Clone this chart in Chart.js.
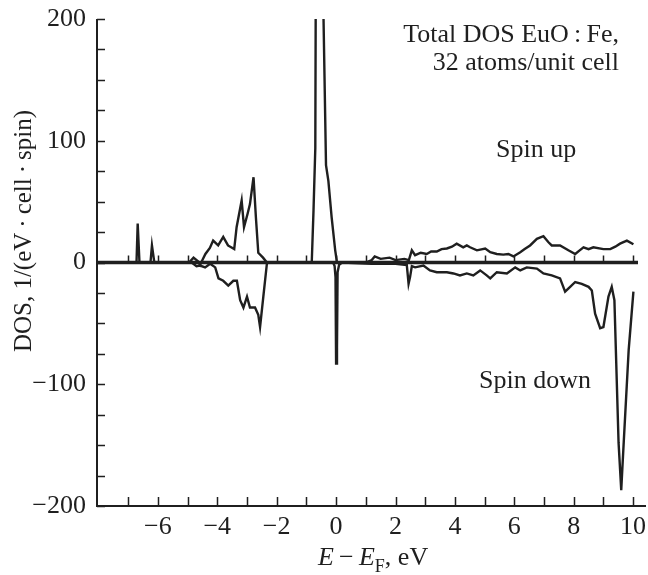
<!DOCTYPE html>
<html>
<head>
<meta charset="utf-8">
<script src="https://cdn.jsdelivr.net/npm/chart.js@4.4.1/dist/chart.umd.min.js"></script>
<style>
  html, body { margin: 0; padding: 0; background: #fff; }
</style>
</head>
<body>
<canvas id="dosChart" width="648" height="575"></canvas>
<script>
// energies (eV, relative to E_F) and total DOS values
const upEnergy = [-8, -6.8, -6.72, -6.68, -6.62, -6.25, -6.2, -6.12, -4.95, -4.8, -4.65, -4.58, -4.48, -4.4, -4.25, -4.14,
  -3.97, -3.8, -3.64, -3.43, -3.35, -3.18, -3.1, -2.98, -2.9, -2.78, -2.7, -2.62, -2.46, -2.33, -0.82, -0.76, -0.7, -0.67,
  -0.45, -0.43, -0.34, -0.26, -0.15, -0.03, 0.03, 1.0, 1.2, 1.3, 1.5, 1.8, 2.0, 2.3, 2.45, 2.55, 2.66, 2.85, 3.05, 3.2,
  3.39, 3.55, 3.73, 3.9, 4.06, 4.28, 4.4, 4.51, 4.74, 5.02, 5.19, 5.41, 5.63, 5.8, 5.97, 6.2, 6.35, 6.53, 6.76, 6.98,
  7.15, 7.26, 7.54, 7.82, 8.05, 8.2, 8.33, 8.5, 8.66, 9.0, 9.23, 9.4, 9.56, 9.79, 10.01];
const upDOS = [0, 0, 0, 32, 0, 0, 14, 0, 0, 4, 1, -2, 3, 7, 12, 18,
  14, 21, 14, 11, 29, 51, 29, 40, 48, 70, 37, 8, 4, 0, 0, 43, 94, 350,
  350, 210, 80, 67, 37, 10, 0, 0, 2, 5, 3, 4, 2, 3, 2, 10, 6, 8, 7, 9,
  9, 11, 11.5, 13, 15.5, 12.5, 14, 12.5, 10, 11.5, 8.5, 7, 6.5, 7, 5, 8.5, 11, 14, 19.4, 21.6,
  16.6, 14, 14, 10, 7, 10, 12.5, 11, 12.5, 11, 11, 13, 15.5, 18, 15];

const downEnergy = [-8, -4.86, -4.7, -4.58, -4.41, -4.24, -4.07, -3.96, -3.8, -3.63, -3.46, -3.34, -3.23, -3.12, -3.0,
  -2.9, -2.73, -2.62, -2.56, -2.45, -2.33, -2.3, -0.1, -0.05, -0.02, 0.0, 0.03, 0.05, 0.1, 0.2, 1.2, 2.0, 2.38, 2.44,
  2.49, 2.55, 2.66, 2.94, 3.16, 3.39, 3.73, 3.95, 4.17, 4.4, 4.62, 4.85, 5.07, 5.19, 5.41, 5.75, 6.03, 6.2, 6.42, 6.76,
  6.98, 7.26, 7.54, 7.71, 7.88, 8.05, 8.27, 8.5, 8.61, 8.72, 8.89, 9.0, 9.17, 9.28, 9.37, 9.51, 9.6, 9.67, 9.85, 10.01];
const downDOS = [0, 0, -3, -2.5, -4, -1, -4, -13, -15, -19, -15, -15, -31, -37, -28,
  -37, -37, -43, -53, -28, -1, 0, 0, -3, -12, -83, -70, -8, -2, 0, -1, -1, -2, -17.5,
  -12, -3, -4, -2.5, -6.5, -8, -8, -9, -10.6, -9, -10.6, -6.5, -10.6, -13, -8, -9, -4, -6.5, -4, -5,
  -9, -10.6, -13, -24, -20, -16, -17.5, -20, -23, -42, -54, -53, -28, -20, -31, -148, -187, -154, -72, -24];

const xTickValues = [-7, -6, -5, -4, -3, -2, -1, 0, 1, 2, 3, 4, 5, 6, 7, 8, 9, 10];
const xTickLabels = [-6, -4, -2, 0, 2, 4, 6, 8, 10];
const yTickValues = [-200, -175, -150, -125, -100, -75, -50, -25, 0, 25, 50, 75, 100, 125, 150, 175, 200];
const yTickLabels = [-200, -100, 0, 100, 200];

const INK = '#1f1f1f';
const SERIF = '"Liberation Serif", "Times New Roman", serif';

const toPoints = (xs, ys) => xs.map((x, i) => ({ x, y: ys[i] }));
const minus = v => String(v).replace('-', '\u2212');

const axisPlugin = {
  id: 'axisPlugin',
  afterDraw(chart) {
    const { ctx, chartArea: a, scales: { x, y } } = chart;
    const y0 = y.getPixelForValue(0);
    ctx.save();
    ctx.strokeStyle = INK;
    ctx.lineCap = 'butt';

    // zero line
    ctx.lineWidth = 3.5;
    ctx.beginPath(); ctx.moveTo(a.left, y0); ctx.lineTo(a.right - 7, y0); ctx.stroke();

    // axis lines
    ctx.lineWidth = 2;
    ctx.beginPath();
    ctx.moveTo(a.left, a.top); ctx.lineTo(a.left, a.bottom); ctx.lineTo(a.right + 1, a.bottom);
    ctx.stroke();

    // inward ticks
    ctx.lineWidth = 1.5;
    ctx.beginPath();
    xTickValues.forEach(v => {
      const px = Math.round(x.getPixelForValue(v)) + 0.5;
      ctx.moveTo(px, a.bottom); ctx.lineTo(px, a.bottom - 9);
      ctx.moveTo(px, y0); ctx.lineTo(px, y0 - 7);
    });
    yTickValues.forEach(v => {
      const py = Math.round(y.getPixelForValue(v)) + 0.5;
      ctx.moveTo(a.left, py); ctx.lineTo(a.left + 8, py);
    });
    ctx.stroke();

    // annotations
    ctx.fillStyle = INK;
    ctx.font = '26px ' + SERIF;
    ctx.textBaseline = 'alphabetic';
    ctx.textAlign = 'right';
    ctx.fillText('Total DOS EuO\u2009:\u2009Fe,', 619, 42);
    ctx.fillText('32 atoms/unit cell', 619, 70);
    ctx.textAlign = 'left';
    ctx.fillText('Spin up', 496, 157);
    ctx.fillText('Spin down', 479, 388);

    // y axis title
    ctx.save();
    ctx.translate(31, 231);
    ctx.rotate(-Math.PI / 2);
    ctx.textAlign = 'center';
    ctx.font = '25px ' + SERIF;
    ctx.fillText('DOS, 1/(eV\u2009\u00b7\u2009cell\u2009\u00b7\u2009spin)', 0, 0);
    ctx.restore();

    // x axis title: E − E_F, eV
    let cx = 318;
    const base = 565;
    const put = (t, font, dy = 0) => {
      ctx.font = font;
      ctx.fillText(t, cx, base + dy);
      cx += ctx.measureText(t).width;
    };
    put('E', 'italic 26px ' + SERIF);
    put('\u2009\u2212\u2009', '26px ' + SERIF);
    put('E', 'italic 26px ' + SERIF);
    put('F', '18px ' + SERIF, 7);
    put(', eV', '26px ' + SERIF);
    ctx.restore();
  }
};

new Chart(document.getElementById('dosChart'), {
  type: 'scatter',
  data: {
    datasets: [
      { label: 'Spin up', data: toPoints(upEnergy, upDOS) },
      { label: 'Spin down', data: toPoints(downEnergy, downDOS) }
    ]
  },
  options: {
    responsive: false,
    animation: false,
    showLine: true,
    layout: { padding: { top: 19, right: 3, left: 0, bottom: 0 } },
    elements: {
      point: { radius: 0, hoverRadius: 0 },
      line: { borderColor: INK, borderWidth: 2.4, tension: 0, fill: false }
    },
    plugins: { legend: { display: false }, tooltip: { enabled: false } },
    scales: {
      x: {
        type: 'linear', min: -8.05, max: 10.4,
        afterBuildTicks: s => { s.ticks = xTickLabels.map(v => ({ value: v })); },
        afterFit: s => { s.height = 69; s.paddingLeft = 0; s.paddingRight = 0; },
        grid: { display: false, drawTicks: false },
        border: { display: false },
        ticks: {
          autoSkip: false, maxRotation: 0, padding: 6,
          color: INK, font: { family: SERIF, size: 26 },
          callback: v => minus(v)
        }
      },
      y: {
        type: 'linear', min: -200, max: 200,
        afterBuildTicks: s => { s.ticks = yTickLabels.map(v => ({ value: v })); },
        afterFit: s => { s.width = 97; s.paddingTop = 0; s.paddingBottom = 0; },
        grid: { display: false, drawTicks: false },
        border: { display: false },
        ticks: {
          padding: 11, color: INK, font: { family: SERIF, size: 26 },
          callback: v => minus(v)
        }
      }
    }
  },
  plugins: [axisPlugin]
});
</script>
</body>
</html>
